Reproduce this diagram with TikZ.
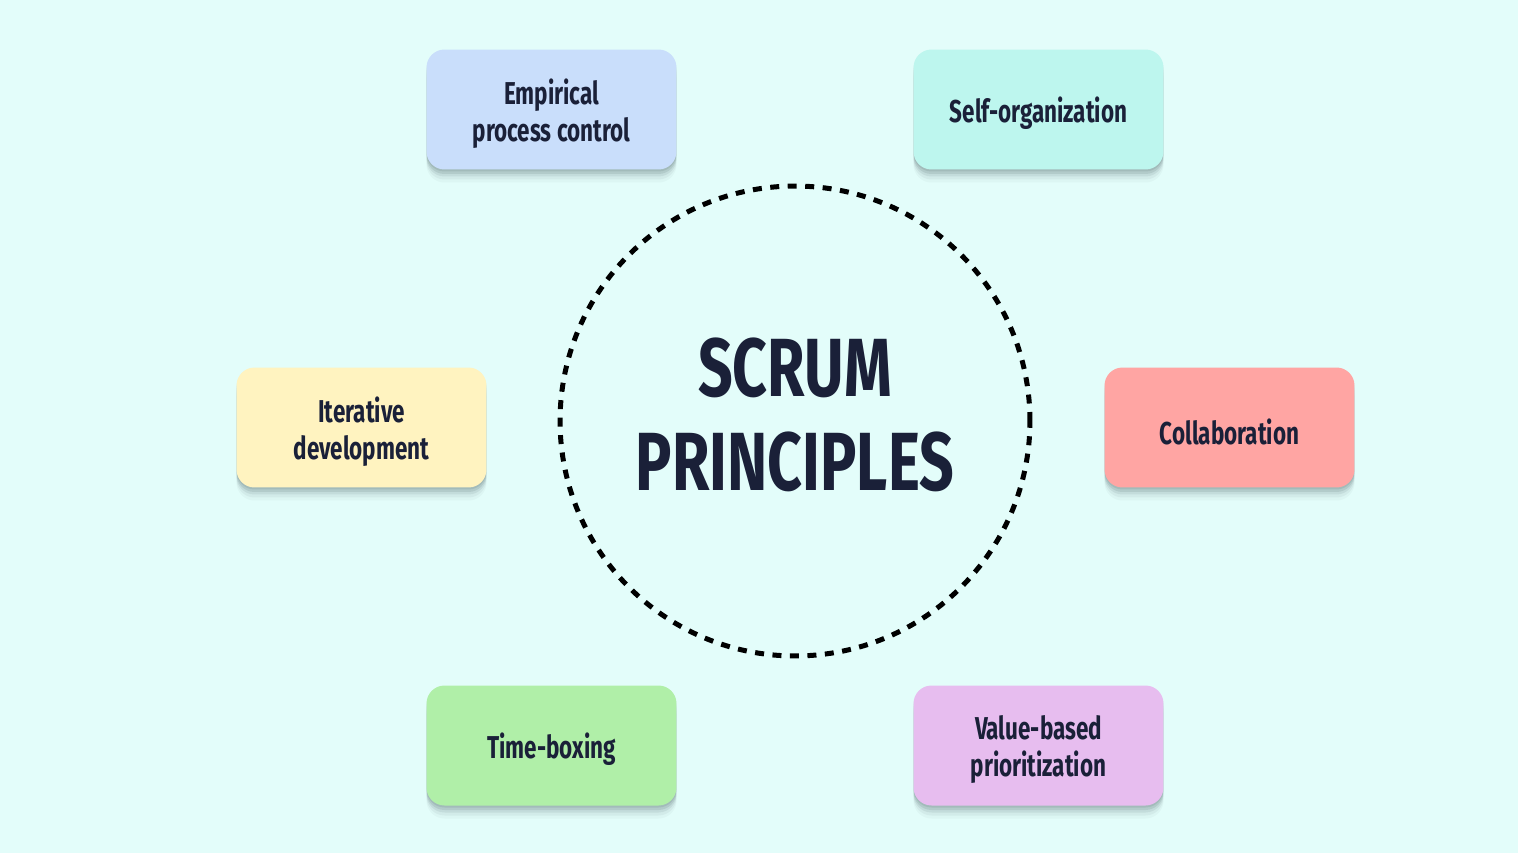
\documentclass[tikz,border=0pt]{standalone}
\usepackage{fontspec}
\setmainfont{Fira Sans}[FakeStretch=0.71]
\newfontfamily\titlefont{Fira Sans}[FakeStretch=0.735]
\definecolor{bgc}{HTML}{E3FDFA}
\definecolor{ink}{HTML}{1A2038}
\definecolor{cblue}{HTML}{C9DEFB}
\definecolor{cteal}{HTML}{BDF6EE}
\definecolor{cyellow}{HTML}{FFF3C0}
\definecolor{cred}{HTML}{FFA5A3}
\definecolor{cgreen}{HTML}{B0EFA8}
\definecolor{cpurple}{HTML}{E7BDEF}
\definecolor{shade}{HTML}{5E7476}
\tikzset{
  card/.style={rounded corners=0.36cm, minimum width=5cm, minimum height=2.4cm,
    preaction={fill=shade, fill opacity=0.05, transform canvas={yshift=-0.26cm}},
    preaction={fill=shade, fill opacity=0.08, transform canvas={yshift=-0.20cm}},
    preaction={fill=shade, fill opacity=0.12, transform canvas={yshift=-0.14cm}},
    preaction={fill=shade, fill opacity=0.16, transform canvas={yshift=-0.09cm}},
    preaction={fill=shade, fill opacity=0.18, transform canvas={yshift=-0.04cm}}},
  cardtext/.style={align=center, text=ink, font=\fontsize{18}{21}\selectfont\bfseries},
  ring/.style={draw=black, line width=0.1cm, dash pattern=on 0.18cm off 0.17cm},
  title/.style={align=center, text=ink, font=\titlefont\fontsize{47}{53.5}\selectfont\bfseries}
}
\begin{document}
\begin{tikzpicture}[x=0.02cm, y=-0.02cm]
\useasboundingbox (0,0) rectangle (1518,853);
\fill[bgc] (0,0) rectangle (1518,853);
\node[ring, circle, minimum size=9.4cm] (ring) at (795,421) {};
\node[title] (t) at (795,415) {SCRUM\\PRINCIPLES};
\node[card, fill=cblue] (emp) at (551.5,109.5) {};
\node[card, fill=cteal] (self) at (1038.5,109.5) {};
\node[card, fill=cyellow] (iter) at (361.5,427.5) {};
\node[card, fill=cred] (coll) at (1229.5,427.5) {};
\node[card, fill=cgreen] (time) at (551.5,745.5) {};
\node[card, fill=cpurple] (val) at (1038.5,745.5) {};
\node[cardtext] (empt) at ([yshift=-0.08cm]emp.center) {Empirical\\process control};
\node[cardtext] (selft) at ([yshift=-0.08cm]self.center) {Self-organization};
\node[cardtext] (itert) at ([yshift=-0.08cm]iter.center) {Iterative\\development};
\node[cardtext] (collt) at ([yshift=-0.08cm]coll.center) {Collaboration};
\node[cardtext] (timet) at ([yshift=-0.08cm]time.center) {Time-boxing};
\node[cardtext] (valt) at ([yshift=-0.08cm]val.center) {Value-based\\prioritization};
\end{tikzpicture}
\end{document}
